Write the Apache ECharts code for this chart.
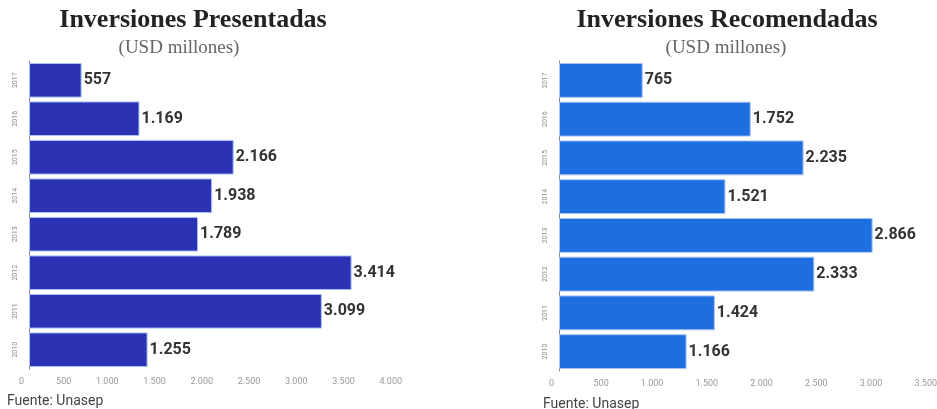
<!DOCTYPE html>
<html><head><meta charset="utf-8">
<script src="https://cdn.jsdelivr.net/npm/echarts@6/dist/echarts.min.js"></script>
<style>html,body{margin:0;padding:0;background:#fff}#c{width:937px;height:409px}</style>
</head><body><div id="c"></div>
<script>
const years = ['2017','2016','2015','2014','2013','2012','2011','2010'];
const presentadas = [557, 1169, 2166, 1938, 1789, 3414, 3099, 1255];
const recomendadas = [765, 1752, 2235, 1521, 2866, 2333, 1424, 1166];
const ticksLeft = {min: 0, max: 4000, interval: 500};
const ticksRight = {min: 0, max: 3500, interval: 500};

const fmt = v => String(v).replace(/\B(?=(\d{3})+(?!\d))/g, '.');
const chart = echarts.init(document.getElementById('c'));

function xAxis(idx, t) {
  return {gridIndex: idx, type: 'value', min: t.min, max: t.max, interval: t.interval,
    axisLine: {show: false}, axisTick: {show: false}, splitLine: {show: false},
    axisLabel: {formatter: fmt, fontSize: 9, color: '#999', fontFamily: 'Roboto', margin: 8,
      align: 'right', padding: [0, 5, 0, 0], showMaxLabel: true}};
}
function yAxis(idx) {
  return {gridIndex: idx, type: 'category', data: years, inverse: true,
    axisLine: {show: true, lineStyle: {color: '#888', width: 1}}, axisTick: {show: false},
    axisLabel: {rotate: 90, fontSize: 7, color: '#888', fontFamily: 'Roboto', margin: 10}};
}
function series(idx, data, color) {
  return {type: 'bar', xAxisIndex: idx, yAxisIndex: idx, data: data, barCategoryGap: '10%',
    itemStyle: {color: color, borderColor: '#a9c3f5', borderWidth: 1},
    label: {show: true, position: 'right', distance: 2, formatter: p => fmt(p.value),
      fontSize: 16, fontWeight: 'bold', color: '#333', fontFamily: 'Roboto'}};
}
const titleStyle = {fontFamily: 'Liberation Serif', fontWeight: 'bold', fontSize: 26, color: '#222'};
const subStyle = {fontFamily: 'Liberation Serif', fontWeight: 'normal', fontSize: 19, color: '#666'};
const srcStyle = {fontSize: 14, color: '#444', fontWeight: 'normal', fontFamily: 'Roboto'};

chart.setOption({
  animation: false,
  title: [
    {text: 'Inversiones Presentadas', left: 193, top: 7, textAlign: 'center', padding: 0, textStyle: titleStyle},
    {text: '(USD millones)', left: 179, top: 39, textAlign: 'center', padding: 0, textStyle: subStyle},
    {text: 'Inversiones Recomendadas', left: 727, top: 7, textAlign: 'center', padding: 0, textStyle: titleStyle},
    {text: '(USD millones)', left: 726, top: 39, textAlign: 'center', padding: 0, textStyle: subStyle},
    {text: 'Fuente: Unasep', left: 7, top: 394, padding: 0, textStyle: srcStyle},
    {text: 'Fuente: Unasep', left: 543, top: 397, padding: 0, textStyle: srcStyle}
  ],
  grid: [
    {left: 29, right: 530, top: 61, bottom: 40, outerBoundsMode: 'none'},
    {left: 559, right: -5, top: 61, bottom: 38, outerBoundsMode: 'none'}
  ],
  xAxis: [xAxis(0, ticksLeft), xAxis(1, ticksRight)],
  yAxis: [yAxis(0), yAxis(1)],
  series: [series(0, presentadas, '#2b32b4'), series(1, recomendadas, '#1d6fe0')]
});
</script></body></html>
